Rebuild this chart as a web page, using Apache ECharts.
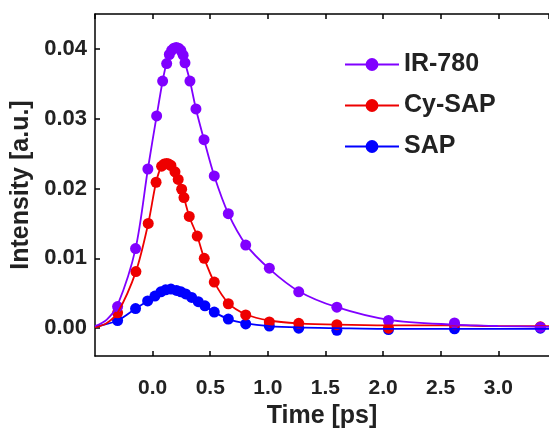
<!DOCTYPE html>
<html><head><meta charset="utf-8">
<script src="https://cdn.jsdelivr.net/npm/echarts@6/dist/echarts.min.js"></script>
<style>html,body{margin:0;padding:0;background:#fff}#c{width:549px;height:434px}</style>
</head><body><div id="c"></div>
<script>
// Data (time in ps, intensity in a.u.)
const legendNames = ['IR-780', 'Cy-SAP', 'SAP'];
const xTickValues = [0.0, 0.5, 1.0, 1.5, 2.0, 2.5, 3.0];
const yTickValues = [0.00, 0.01, 0.02, 0.03, 0.04];

// measured points (markers)
const irTime = [-0.304, -0.148, -0.041, 0.035, 0.087, 0.122, 0.145, 0.165, 0.185, 0.205, 0.225, 0.245, 0.265, 0.281, 0.324, 0.376, 0.446, 0.535, 0.657, 0.808, 1.013, 1.268, 1.599, 2.047, 2.62, 3.365];
const irValues = [0.0031, 0.0114, 0.0228, 0.0304, 0.0354, 0.0379, 0.0392, 0.0398, 0.0401, 0.0402, 0.0401, 0.0398, 0.0391, 0.0380, 0.0354, 0.0314, 0.0270, 0.0218, 0.0164, 0.0119, 0.0086, 0.0052, 0.0030, 0.0011, 0.00075, 0.00014];

const cyTime = [-0.304, -0.145, -0.038, 0.03, 0.078, 0.10, 0.122, 0.14, 0.159, 0.194, 0.222, 0.252, 0.272, 0.318, 0.387, 0.448, 0.535, 0.657, 0.808, 1.013, 1.268, 1.599, 2.047, 2.62, 3.365];
const cyValues = [0.0022, 0.0081, 0.0150, 0.0209, 0.0232, 0.0235, 0.0236, 0.0235, 0.0233, 0.0224, 0.0213, 0.0199, 0.0187, 0.0160, 0.0132, 0.0100, 0.0066, 0.0035, 0.0019, 0.0009, 0.0007, 0.0005, 0.0000, 0.0005, 0.0002];

const sapTime = [-0.304, -0.148, -0.043, 0.02, 0.072, 0.113, 0.159, 0.208, 0.246, 0.287, 0.339, 0.396, 0.454, 0.535, 0.657, 0.808, 1.013, 1.268, 1.599, 2.047, 2.62, 3.365];
const sapValues = [0.0011, 0.0028, 0.0039, 0.0046, 0.0052, 0.0055, 0.0056, 0.0054, 0.0052, 0.0049, 0.0044, 0.0038, 0.0032, 0.0023, 0.0013, 0.0006, 0.0003, 0.0000, -0.0003, -0.0002, -0.0001, 0.0000];

// fitted curves
const irFitTime = [-0.5, -0.4, -0.304, -0.148, -0.041, 0.035, 0.087, 0.122, 0.165, 0.205, 0.245, 0.281, 0.324, 0.376, 0.446, 0.535, 0.657, 0.808, 1.013, 1.268, 1.599, 2.047, 2.62, 3.0, 3.44];
const irFitValues = [0.0003, 0.0012, 0.0033, 0.0114, 0.0228, 0.0304, 0.0354, 0.0380, 0.0398, 0.0402, 0.0398, 0.0380, 0.0354, 0.0314, 0.0270, 0.0218, 0.0164, 0.0120, 0.0085, 0.0053, 0.0030, 0.0012, 0.0005, 0.0003, 0.0002];

const cyFitTime = [-0.5, -0.4, -0.304, -0.145, -0.038, 0.03, 0.078, 0.122, 0.159, 0.194, 0.222, 0.252, 0.318, 0.387, 0.448, 0.535, 0.657, 0.808, 1.013, 1.268, 1.599, 2.047, 2.62, 3.0, 3.44];
const cyFitValues = [0.0001, 0.0007, 0.0022, 0.0081, 0.0150, 0.0209, 0.0232, 0.0236, 0.0233, 0.0224, 0.0213, 0.0199, 0.0160, 0.0132, 0.0100, 0.0066, 0.0036, 0.0020, 0.0011, 0.0007, 0.0005, 0.0004, 0.0004, 0.0003, 0.0003];

const sapFitTime = [-0.5, -0.304, -0.148, -0.043, 0.02, 0.072, 0.113, 0.159, 0.208, 0.246, 0.287, 0.339, 0.396, 0.454, 0.535, 0.657, 0.808, 1.013, 1.268, 1.599, 2.047, 2.62, 3.44];
const sapFitValues = [0.0002, 0.0011, 0.0028, 0.0039, 0.0046, 0.0052, 0.0055, 0.0056, 0.0054, 0.0052, 0.0049, 0.0044, 0.0038, 0.0032, 0.0023, 0.0013, 0.0007, 0.0003, 0.0001, 0.0000, -0.0001, -0.0001, -0.0001];

const FONT = 'Liberation Sans';
const TXT = '#222';

const zip = (t, v) => t.map((x, i) => [x, v[i]]);
function fit(name, t, v, color) {
  return {
    name, type: 'line', data: zip(t, v), smooth: 0.3,
    symbol: 'circle', showSymbol: false,
    lineStyle: { color, width: 1.8 }, itemStyle: { color },
    emphasis: { disabled: true }, clip: true
  };
}
function pts(name, t, v, color) {
  return {
    name: name + ' data', type: 'scatter', data: zip(t, v),
    symbol: 'circle', symbolSize: 11, itemStyle: { color, opacity: 1 },
    emphasis: { disabled: true }, clip: true
  };
}

const chart = echarts.init(document.getElementById('c'), null, { renderer: 'canvas' });
const xCommon = {
  type: 'value', min: -0.5, max: 3.44, interval: 0.5,
  axisLine: { show: true, onZero: false, lineStyle: { color: '#000', width: 1.5 } },
  axisTick: { show: true, inside: true, length: 5, lineStyle: { color: '#000', width: 1.5 } },
  splitLine: { show: false }
};
chart.setOption({
  animation: false,
  backgroundColor: '#fff',
  grid: { left: 95, right: 0, top: 14, bottom: 77 },
  xAxis: [
    Object.assign({}, xCommon, {
      position: 'bottom',
      name: 'Time [ps]', nameLocation: 'middle', nameGap: 47,
      nameTextStyle: { fontFamily: FONT, fontWeight: 'bold', fontSize: 25, color: TXT },
      axisLabel: {
        showMinLabel: false, showMaxLabel: false, margin: 22,
        fontFamily: FONT, fontWeight: 'bold', fontSize: 21, color: TXT,
        formatter: v => xTickValues.some(t => Math.abs(t - v) < 1e-9) ? v.toFixed(1) : ''
      }
    }),
    Object.assign({}, xCommon, { position: 'top', axisLabel: { show: false } })
  ],
  yAxis: {
    type: 'value', min: -0.004, max: 0.045, splitNumber: 5,
    axisLine: { show: true, onZero: false, lineStyle: { color: '#000', width: 1.5 } },
    axisTick: { show: true, inside: true, length: 5, lineStyle: { color: '#000', width: 1.5 } },
    splitLine: { show: false },
    name: 'Intensity [a.u.]', nameLocation: 'middle', nameGap: 59,
    nameTextStyle: { fontFamily: FONT, fontWeight: 'bold', fontSize: 25, color: TXT },
    axisLabel: {
      showMinLabel: false, showMaxLabel: false, margin: 8,
      fontFamily: FONT, fontWeight: 'bold', fontSize: 22, color: TXT,
      formatter: v => yTickValues.some(t => Math.abs(t - v) < 1e-9) ? v.toFixed(2) : ''
    }
  },
  legend: {
    data: legendNames, orient: 'vertical', left: 339, top: 47,
    itemWidth: 54, itemHeight: 16, itemGap: 16,
    textStyle: { fontFamily: FONT, fontWeight: 'bold', fontSize: 25, color: TXT }
  },
  series: [
    fit('SAP', sapFitTime, sapFitValues, '#0000ff'),
    pts('SAP', sapTime, sapValues, '#0000ff'),
    fit('Cy-SAP', cyFitTime, cyFitValues, '#ee0000'),
    pts('Cy-SAP', cyTime, cyValues, '#ee0000'),
    fit('IR-780', irFitTime, irFitValues, '#8000ff'),
    pts('IR-780', irTime, irValues, '#8000ff')
  ]
});
</script></body></html>
